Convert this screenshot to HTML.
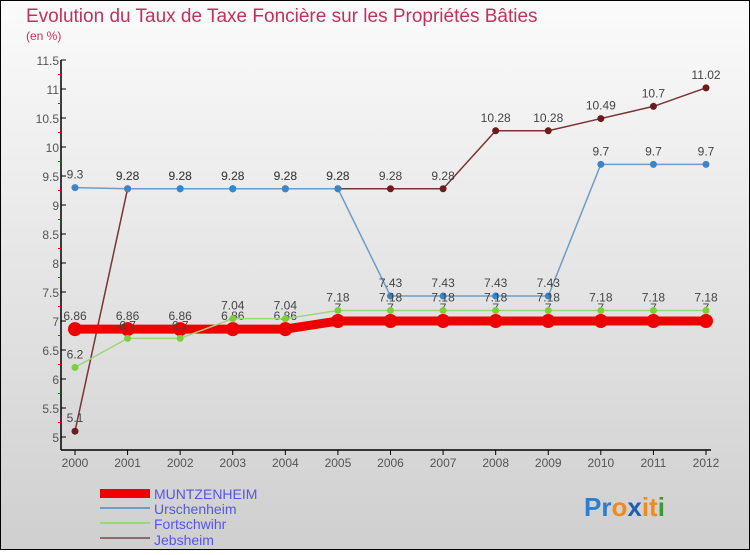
<!DOCTYPE html>
<html><head><meta charset="utf-8"><style>
body{margin:0;width:750px;height:550px;overflow:hidden;font-family:"Liberation Sans",sans-serif}
</style></head><body>
<svg width="750" height="550" xmlns="http://www.w3.org/2000/svg">
<defs><linearGradient id="bg" x1="0" y1="0" x2="0" y2="1"><stop offset="0" stop-color="#fbfbfb"/><stop offset="1" stop-color="#cfcfcf"/></linearGradient></defs>
<rect x="0.5" y="0.5" width="749" height="549" fill="url(#bg)" stroke="#000"/>
<text x="26" y="22" font-size="19" fill="#c4305e">Evolution du Taux de Taxe Foncière sur les Propriétés Bâties</text>
<text x="26" y="40" font-size="12" fill="#c4305e">(en %)</text>
<g id="axes"></g><g id="series"></g>
<g>
<rect x="100" y="489" width="50" height="9" fill="#e00"/>
<text x="154" y="499" font-size="14" fill="#5555ee">MUNTZENHEIM</text>
<line x1="100" y1="508" x2="150" y2="508" stroke="#6e9cc6" stroke-width="2"/>
<text x="154" y="514" font-size="14" fill="#5555ee">Urschenheim</text>
<line x1="100" y1="523" x2="150" y2="523" stroke="#98d87a" stroke-width="2"/>
<text x="154" y="529" font-size="14" fill="#5555ee">Fortschwihr</text>
<line x1="100" y1="538" x2="150" y2="538" stroke="#8b6a6a" stroke-width="2"/>
<text x="154" y="545" font-size="14" fill="#5555ee">Jebsheim</text>
</g>
<text x="584" y="516" font-size="26" font-weight="bold"><tspan fill="#2a7fd0">Pr</tspan><tspan fill="#f08a1c">o</tspan><tspan fill="#1f5fb0">x</tspan><tspan fill="#f08a1c">it</tspan><tspan fill="#3a9a3a">i</tspan></text>
</svg>
<script>
const years=[2000,2001,2002,2003,2004,2005,2006,2007,2008,2009,2010,2011,2012];
const muntz=[6.86,6.86,6.86,6.86,6.86,7,7,7,7,7,7,7,7];
const ursch=[9.3,9.28,9.28,9.28,9.28,9.28,7.43,7.43,7.43,7.43,9.7,9.7,9.7];
const forts=[6.2,6.7,6.7,7.04,7.04,7.18,7.18,7.18,7.18,7.18,7.18,7.18,7.18];
const jebs=[5.1,9.28,9.28,9.28,9.28,9.28,9.28,9.28,10.28,10.28,10.49,10.7,11.02];
const yTicks=[5,5.5,6,6.5,7,7.5,8,8.5,9,9.5,10,10.5,11,11.5];
const NS="http://www.w3.org/2000/svg";
const X=i=>75+i*(706-75)/(years.length-1);
const Y=v=>437-(v-5)*58;
function mk(t,a,p){const e=document.createElementNS(NS,t);for(const k in a)e.setAttribute(k,a[k]);p.appendChild(e);return e;}
const ax=document.getElementById('axes');
mk('line',{x1:61,y1:Y(11.5),x2:61,y2:450,stroke:'#000','stroke-width':1.5},ax);
mk('line',{x1:61,y1:450,x2:X(12)+5,y2:450,stroke:'#000','stroke-width':1.5},ax);
yTicks.forEach((v,i)=>{
 mk('line',{x1:61,y1:Y(v),x2:66,y2:Y(v),stroke:'#000'},ax);
 if(i<yTicks.length-1)mk('line',{x1:58,y1:Y(v+0.25),x2:61,y2:Y(v+0.25),stroke:'#e00'},ax);
 const t=mk('text',{x:59,y:Y(v)+5,'font-size':12,fill:'#555','text-anchor':'end'},ax);t.textContent=v;
 
 
});
years.forEach((y,i)=>{
 mk('line',{x1:X(i),y1:450,x2:X(i),y2:455,stroke:'#000'},ax);
 const t=mk('text',{x:X(i),y:467,'font-size':12,fill:'#555','text-anchor':'middle'},ax);t.textContent=y;
 
 
});
const sg=document.getElementById('series');
function series(vals,color,dot,w,r,name){
 const g=mk('g',{},sg);
 
 
 mk('polyline',{points:vals.map((v,i)=>X(i)+','+Y(v)).join(' '),fill:'none',stroke:color,'stroke-width':w},g);
 vals.forEach((v,i)=>{
  const c=mk('circle',{cx:X(i),cy:Y(v),r:r,fill:dot},g);
  
  
  const t=mk('text',{x:X(i),y:Y(v)-9,'font-size':12,fill:'#444','text-anchor':'middle'},g);t.textContent=v;
  
  
 });
}
series(jebs,'#7a3434','#6b1c1c',1.5,3.5,'series-jebsheim');
series(ursch,'#6e9cc6','#3a86c8',1.5,3.5,'series-urschenheim');
series(muntz,'#ee0000','#ee0000',9,7,'series-muntzenheim');
series(forts,'#98d87a','#7ccf3c',1.5,3.5,'series-fortschwihr');
</script>
</body></html>
